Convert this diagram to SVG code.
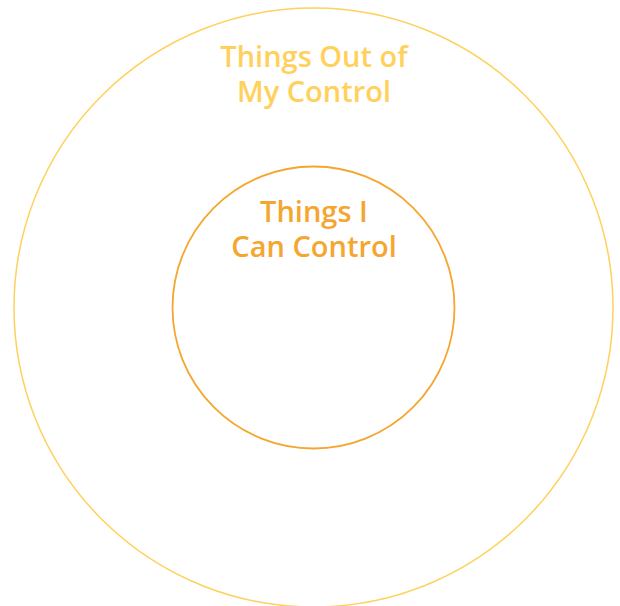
<svg xmlns="http://www.w3.org/2000/svg" width="620" height="606" viewBox="0 0 620 606">
<style>
.lbl{font-family:"Open Sans","Noto Sans",sans-serif;font-weight:600;font-size:29px;text-anchor:middle}
</style>
<rect width="620" height="606" fill="#ffffff"/>
<g id="outer">
<circle cx="313.5" cy="307.5" r="299.5" fill="none" stroke="#FFD15C" stroke-width="1.5"/>
<text class="lbl" fill="#FFD15C"><tspan x="314" y="67">Things Out of</tspan><tspan x="314" y="102">My Control</tspan></text>
</g>
<g id="inner">
<circle cx="313.5" cy="307.5" r="141" fill="none" stroke="#F5A62F" stroke-width="1.8"/>
<text class="lbl" fill="#F5A62F"><tspan x="314" y="222">Things I</tspan><tspan x="314" y="257">Can Control</tspan></text>
</g>
<g id="connectors"/>
</svg>
